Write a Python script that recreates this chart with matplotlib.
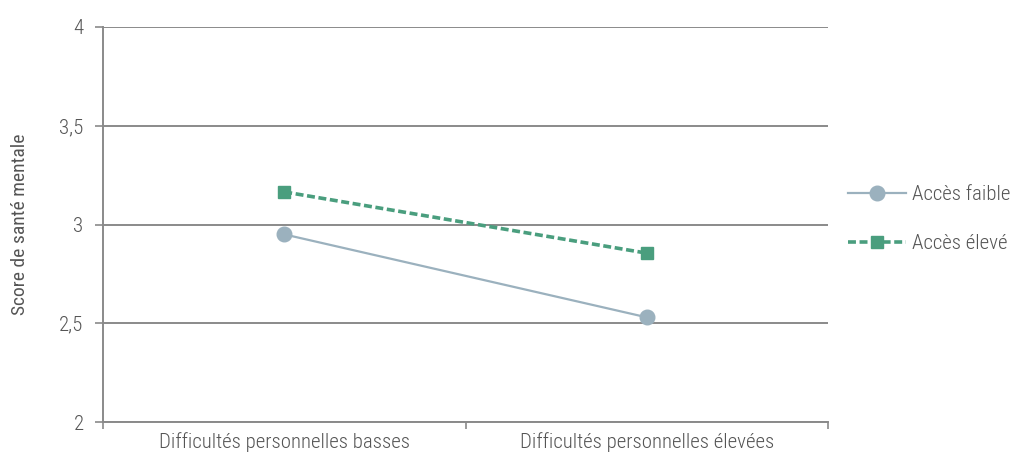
import matplotlib
matplotlib.use("Agg")
import matplotlib.pyplot as plt
from matplotlib import font_manager

available = {f.name for f in font_manager.fontManager.ttflist}
family = "DejaVu Sans"
for cand in ["Roboto Condensed", "Archivo Narrow", "PT Sans Narrow", "Open Sans"]:
    if cand in available:
        family = cand
        break
plt.rcParams["font.family"] = [family, "DejaVu Sans"]
if family == "Open Sans":
    plt.rcParams["font.stretch"] = "condensed"
plt.rcParams["font.weight"] = "light"

categories = ["Difficultés personnelles basses", "Difficultés personnelles élevées"]
acces_faible = [2.95, 2.53]
acces_eleve = [3.165, 2.855]
y_ticks = [2, 2.5, 3, 3.5, 4]
y_ticklabels = ["2", "2,5", "3", "3,5", "4"]

grey = "#8a8a8a"
text_col = "#555555"
c_faible = "#9bb1be"
c_eleve = "#4a9e7e"

fig = plt.figure(figsize=(10.13, 4.57), dpi=100)
ax = fig.add_axes([103 / 1013, 1 - 422 / 457, 725 / 1013, 395 / 457])

x = list(range(len(categories)))
ax.plot(x, acces_faible, color=c_faible, lw=1.6, marker="o", ms=10.5,
        label="Accès faible", zorder=3)
ax.plot(x, acces_eleve, color=c_eleve, lw=2.6, ls=(0, (2.2, 1.0)), marker="s",
        ms=8.5, label="Accès élevé", zorder=3)

ax.set_xlim(-0.5, 1.5)
ax.set_ylim(2, 4)
ax.set_yticks(y_ticks)
ax.set_yticklabels(y_ticklabels)
ax.set_xticks([-0.5, 0.5, 1.5])
ax.set_xticklabels([])
ax.set_xticks(x, minor=True)
ax.set_xticklabels(categories, minor=True)
ax.tick_params(axis="x", which="minor", length=0, pad=7, labelsize=15, labelcolor=text_col)
ax.tick_params(axis="x", which="major", length=5, color=grey, width=1.2)
ax.tick_params(axis="y", length=6, color=grey, width=1.2, labelsize=15,
               labelcolor=text_col, pad=8)

ax.grid(axis="y", color=grey, lw=1.4)
ax.set_axisbelow(True)
for s in ["top", "right"]:
    ax.spines[s].set_visible(False)
for s in ["left", "bottom"]:
    ax.spines[s].set_color(grey)
    ax.spines[s].set_linewidth(1.4)

ax.set_ylabel("Score de santé mentale", fontsize=14, color=text_col, labelpad=22)

leg = fig.legend(loc="center left", bbox_to_anchor=(840 / 1013, 1 - 219 / 457),
                 borderaxespad=0, frameon=False, fontsize=15, handlelength=2.75,
                 labelspacing=1.45, handletextpad=0.3, labelcolor=text_col)

fig.savefig("out.png", dpi=100)
